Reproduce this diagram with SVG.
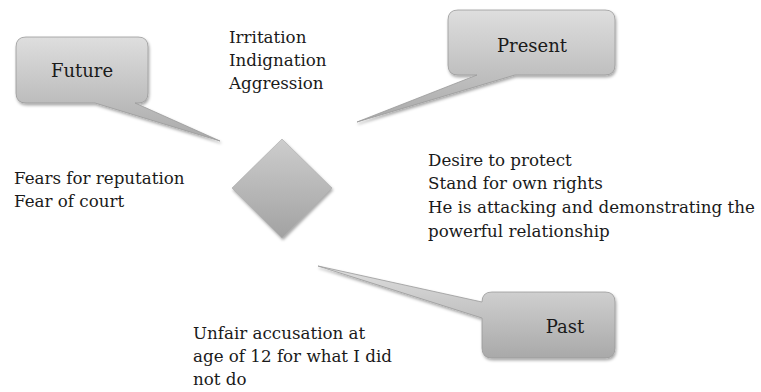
<svg xmlns="http://www.w3.org/2000/svg" width="761" height="392" viewBox="0 0 761 392">
  <defs>
    <linearGradient id="boxFill" x1="0" y1="0" x2="0" y2="1">
      <stop offset="0" stop-color="#dedede"/>
      <stop offset="1" stop-color="#a9a9a9"/>
    </linearGradient>
    <linearGradient id="diamondFill" x1="0" y1="0" x2="0" y2="1">
      <stop offset="0" stop-color="#cdcdcd"/>
      <stop offset="1" stop-color="#a2a2a2"/>
    </linearGradient>
    <filter id="shadow" x="-20%" y="-20%" width="140%" height="140%">
      <feDropShadow dx="1" dy="2" stdDeviation="1.8" flood-color="#000" flood-opacity="0.35"/>
    </filter>
  </defs>
  <style>
    .callout { fill: url(#boxFill); stroke: #9a9a9a; stroke-width: 0.8; filter: url(#shadow); }
    .diamond { fill: url(#diamondFill); stroke: #a8a8a8; stroke-width: 0.6; filter: url(#shadow); }
    .label { font-family: "DejaVu Serif", "Liberation Serif", serif; font-size: 18px; fill: #1a1a1a; text-anchor: middle; }
    .note { font-family: "DejaVu Serif", "Liberation Serif", serif; font-size: 16.7px; fill: #1a1a1a; }
  </style>
  <rect width="761" height="392" fill="#ffffff"/>

  <!-- speech-bubble connectors: each tail points at the central diamond -->
  <g id="connectors">
    <path id="future-tail" class="callout" d="M26,37 H138 Q148,37 148,47 V93 Q148,103 138,103 H135 L220,141 L95,103 H26 Q16,103 16,93 V47 Q16,37 26,37 Z"/>
    <path id="present-tail" class="callout" d="M458,10 H605 Q615,10 615,20 V65 Q615,75 605,75 H515 L357,122 L477,75 H458 Q448,75 448,65 V20 Q448,10 458,10 Z"/>
    <path id="past-tail" class="callout" d="M492,292 H605 Q615,292 615,302 V348 Q615,358 605,358 H492 Q482,358 482,348 V318 L318,266 L482,302 Q482,292 492,292 Z"/>
  </g>

  <g id="center">
    <polygon class="diamond" points="282,139 332,188 282,238 232,188"/>
  </g>

  <g id="future">
    <text class="label" x="82" y="77">Future</text>
    <text class="note" x="14" y="184">Fears for reputation</text>
    <text class="note" x="14" y="207">Fear of court</text>
  </g>

  <g id="present">
    <text class="label" x="532" y="52">Present</text>
    <text class="note" x="428" y="166">Desire to protect</text>
    <text class="note" x="428" y="189">Stand for own rights</text>
    <text class="note" x="428" y="213">He is attacking and demonstrating the</text>
    <text class="note" x="428" y="237">powerful relationship</text>
  </g>

  <g id="emotions">
    <text class="note" x="229" y="43">Irritation</text>
    <text class="note" x="229" y="66">Indignation</text>
    <text class="note" x="229" y="89">Aggression</text>
  </g>

  <g id="past">
    <text class="label" x="565" y="333">Past</text>
    <text class="note" x="193" y="339">Unfair accusation at</text>
    <text class="note" x="193" y="362">age of 12 for what I did</text>
    <text class="note" x="193" y="385">not do</text>
  </g>
</svg>
